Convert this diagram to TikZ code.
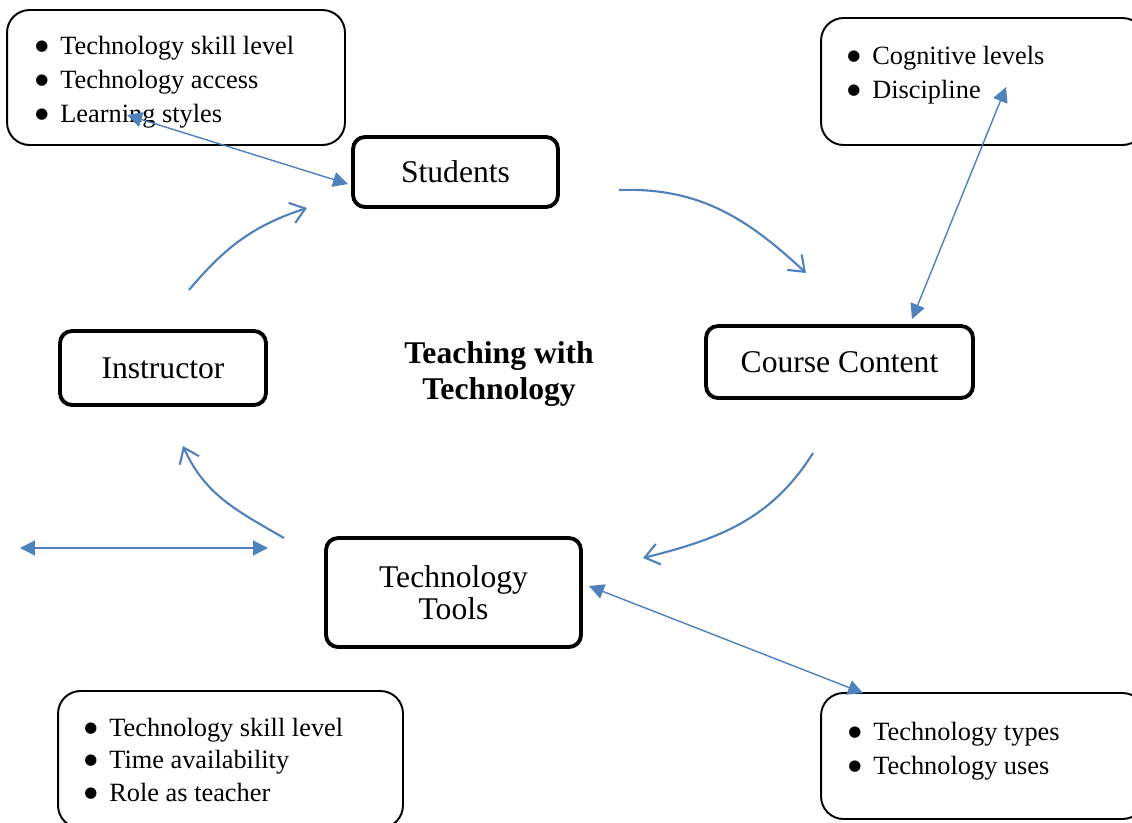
\documentclass[tikz,border=0pt]{standalone}
\usepackage{fontspec}
\setmainfont{Liberation Serif}
\newfontfamily\bulfont{DejaVu Sans}
\usetikzlibrary{arrows.meta}
\definecolor{arblue}{RGB}{79,129,189}
\newcommand{\bulitem}{\makebox[0.50cm][l]{\raisebox{1.8pt}{\bulfont\fontsize{8.5}{8.5}\selectfont ●}}}
\begin{document}
\begin{tikzpicture}[x=0.02cm,y=-0.02cm,
  mainbox/.style={draw, line width=2.2pt, rounded corners=0.24cm, inner sep=0pt, font=\fontsize{18}{18}\selectfont, align=center},
  infobox/.style={draw, line width=1.1pt, rounded corners=0.45cm, inner sep=0pt},
  itemtext/.style={anchor=base west, inner sep=0pt, font=\fontsize{15}{18}\selectfont},
  cyc/.style={draw=arblue, line width=1.2pt, -{Straight Barb[length=8pt,width=12pt,line width=1.2pt]}},
  dbl/.style={draw=arblue, line width=0.8pt, {Triangle[length=8.5pt,width=8.5pt]}-{Triangle[length=8.5pt,width=8.5pt]}}
]
\useasboundingbox (0,0) rectangle (1132,822);
\fill[white] (0,0) rectangle (1132,822);
\clip (0,0) rectangle (1132,822);

% main nodes
\node[mainbox, minimum width=4.10cm, minimum height=1.40cm] (students) at (455.5,172) {Students};
\node[mainbox, minimum width=4.12cm, minimum height=1.48cm] (instructor) at (163,368) {Instructor};
\node[mainbox, minimum width=5.34cm, minimum height=1.44cm] (content) at (839.5,362) {Course Content};
\node[mainbox, minimum width=5.10cm, minimum height=2.18cm] (tools) at (453.5,592.5) {Technology\\Tools};
\node[font=\bfseries\fontsize{18}{20.4}\selectfont, align=center, inner sep=0pt] (title) at (499,374) {Teaching with\\Technology};

% student box
\node[infobox, minimum width=6.76cm, minimum height=2.70cm] (sbox) at (176,77.5) {};
\node[itemtext] (st1) at (35,54) {\bulitem Technology skill level};
\node[itemtext] (st2) at (35,88) {\bulitem Technology access};
\node[itemtext] (st3) at (35,122) {\bulitem Learning styles};

% content box
\node[infobox, minimum width=6.48cm, minimum height=2.54cm] (cbox) at (983,81.5) {};
\node[itemtext] (ct1) at (847,64) {\bulitem Cognitive levels};
\node[itemtext] (ct2) at (847,98) {\bulitem Discipline};

% instructor box
\node[infobox, minimum width=6.90cm, minimum height=2.74cm] (ibox) at (230.5,759.5) {};
\node[itemtext] (it1) at (84,736) {\bulitem Technology skill level};
\node[itemtext] (it2) at (84,768) {\bulitem Time availability};
\node[itemtext] (it3) at (84,801) {\bulitem Role as teacher};

% tools box
\node[infobox, minimum width=6.48cm, minimum height=2.52cm] (tbox) at (983,756) {};
\node[itemtext] (tt1) at (848,740) {\bulitem Technology types};
\node[itemtext] (tt2) at (848,774) {\bulitem Technology uses};

% double arrows
\coordinate (s1) at (127,115); \coordinate (s2) at (348,184);
\draw[dbl] (s1) -- (s2);
\coordinate (k1) at (1006,87); \coordinate (k2) at (912,319);
\draw[dbl] (k1) -- (k2);
\coordinate (t1) at (589,586); \coordinate (t2) at (863,693);
\draw[dbl] (t1) -- (t2);
\coordinate (h1) at (20,548); \coordinate (h2) at (268,548);
\draw[dbl] (h1) -- (h2);

% cycle arrows
\coordinate (c1s) at (619,190); \coordinate (c1e) at (806,273);
\draw[cyc] (c1s) to[out=2,in=137] (c1e);
\coordinate (c2s) at (813,453); \coordinate (c2e) at (643,558);
\draw[cyc] (c2s) to[out=-122,in=14] (c2e);
\coordinate (c3s) at (284,538); \coordinate (c3e) at (183,446);
\draw[cyc] (c3s) to[out=150,in=-66] (c3e);
\coordinate (c4s) at (189,290); \coordinate (c4e) at (307,208);
\draw[cyc] (c4s) to[out=50,in=-162] (c4e);
\end{tikzpicture}
\end{document}
